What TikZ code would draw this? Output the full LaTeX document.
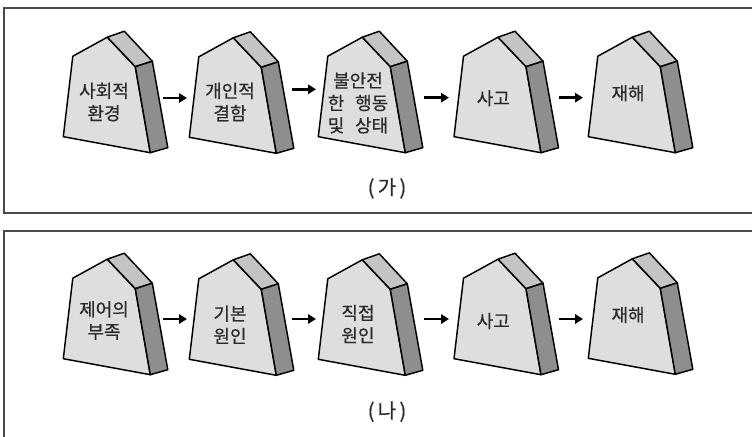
\documentclass[tikz,border=0pt]{standalone}
\usepackage{fontspec}
\newfontfamily\kor[FakeBold=0.5]{Noto Sans CJK KR}
\usetikzlibrary{arrows.meta}
\definecolor{dfrontc}{HTML}{DEDEDE}
\definecolor{dtopc}{HTML}{C4C4C4}
\definecolor{dsidec}{HTML}{8E8E8E}
\definecolor{framec}{HTML}{4A4A4A}
\definecolor{txtc}{HTML}{2A2A2A}
\tikzset{
  dline/.style={draw=black, line width=1.1pt, line join=round},
  lbl/.style={font=\kor\fontsize{13.5}{16.8}\selectfont, text=txtc, align=center, inner sep=0pt},
  panellabel/.style={font=\kor\fontsize{15}{17}\selectfont, text=txtc, inner sep=0pt},
  arr/.style={line width=2.2pt, -{Triangle[length=6pt,width=7pt]}},
  panel/.style={draw=framec, line width=1.3pt}
}
\newcommand{\domino}[2]{%
  \begin{scope}[shift={(#1,#2)}]
    \path[dline, fill=dfrontc] (0,0) -- (9.5,-80.5) -- (44,-99.5) -- (72,-70) -- (87,16) -- cycle;
    \path[dline, fill=dtopc] (44,-99.5) -- (61,-105.5) -- (89,-75.5) -- (72,-70) -- cycle;
    \path[dline, fill=dsidec] (72,-70) -- (89,-75.5) -- (104.5,11) -- (87,16) -- cycle;
  \end{scope}}
\begin{document}
\begin{tikzpicture}[x=0.75pt, y=-0.75pt]
\useasboundingbox (0,0) rectangle (752,436);
\clip (0,0) rectangle (752,436);
\fill[white] (0,0) rectangle (752,436);
\draw[panel] (4,8) rectangle (770,213);
\draw[panel] (4,231) rectangle (770,460);

\domino{63.3}{136.7}
\domino{189.3}{137.3}
\domino{318.3}{136.7}
\domino{454}{136.7}
\domino{588.3}{136.7}
\node[lbl] (s1) at (104,102) {사회적\\환경};
\node[lbl] (s2) at (230,102) {개인적\\결함};
\node[lbl] (s3) at (358,103) {불안전\\한\hspace{0.6em}행동\\및\hspace{0.6em}상태};
\node[lbl] (s4) at (493.3,98.3) {사고};
\node[lbl] (s5) at (628,93.3) {재해};
\coordinate (a1) at (163,98);
\coordinate (b1) at (187,98);
\coordinate (a2) at (292,89.3);
\coordinate (b2) at (316,89.3);
\coordinate (a3) at (424,97.7);
\coordinate (b3) at (449,97.7);
\coordinate (a4) at (559,97.7);
\coordinate (b4) at (583,97.7);
\draw[arr] (a1) -- (b1);
\draw[arr] (a2) -- (b2);
\draw[arr] (a3) -- (b3);
\draw[arr] (a4) -- (b4);
\node[panellabel] (ga) at (387,188.3) {(\,가\,)};

\domino{63.3}{358.7}
\domino{189.3}{359.3}
\domino{318.3}{359.3}
\domino{454}{358.7}
\domino{588.3}{358.3}
\node[lbl] (p1) at (104,320.5) {제어의\\부족};
\node[lbl] (p2) at (230,324.7) {기본\\원인};
\node[lbl] (p3) at (358,324) {직접\\원인};
\node[lbl] (p4) at (493.3,321) {사고};
\node[lbl] (p5) at (628,315) {재해};
\coordinate (c1) at (163,319);
\coordinate (d1) at (187,319);
\coordinate (c2) at (292,319);
\coordinate (d2) at (316,319);
\coordinate (c3) at (424,319);
\coordinate (d3) at (449,319);
\coordinate (c4) at (559,319);
\coordinate (d4) at (583,319);
\draw[arr] (c1) -- (d1);
\draw[arr] (c2) -- (d2);
\draw[arr] (c3) -- (d3);
\draw[arr] (c4) -- (d4);
\node[panellabel] (na) at (387,411.7) {(\,나\,)};
\end{tikzpicture}
\end{document}
